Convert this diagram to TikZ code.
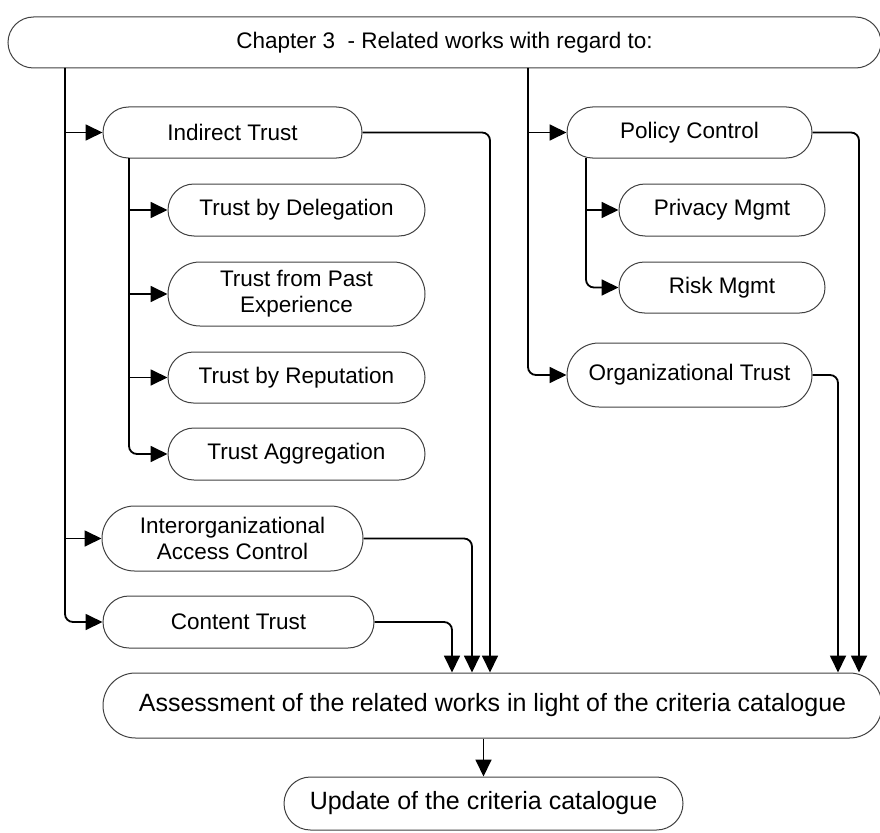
\documentclass[tikz,border=0pt]{standalone}
\usepackage{fontspec}
\setmainfont{Liberation Sans}
\usetikzlibrary{arrows.meta}
\begin{document}
\begin{tikzpicture}[x=1pt,y=-1pt,
  box/.style={draw=black!75, line width=1pt, rectangle, inner sep=0pt, align=center,
    font=\fontsize{22.5}{26}\selectfont},
  big/.style={font=\fontsize{25}{30}\selectfont},
  sz/.style 2 args={minimum width=#1pt, minimum height=#2pt, rounded corners=0.5*#2pt},
  conn/.style={draw=black, line width=1.8pt, rounded corners=8pt,
    -{Triangle[length=17pt,width=16pt]}},
]
\useasboundingbox (0,0) rectangle (880,832);

% header
\node[box, sz={873}{51}] (top) at (444.5,42.5) {Chapter 3~ - Related works with regard to:};

% left branch: indirect trust and its kinds
\node[box, sz={259}{51}] (ind)   at (232.5,132.5) {Indirect Trust};
\node[box, sz={257}{52}] (del)   at (296.5,210)   {Trust by Delegation};
\node[box, sz={257}{64}] (past)  at (296.5,294)   {Trust from Past\\Experience};
\node[box, sz={257}{51}] (rep)   at (296.5,377.5) {Trust by Reputation};
\node[box, sz={257}{52}] (agg)   at (296.5,454)   {Trust Aggregation};
\node[box, sz={261}{65}] (inter) at (232.5,538.5) {Interorganizational\\Access Control};
\node[box, sz={271}{52}] (cont)  at (238.5,622)   {Content Trust};

% right branch: policy control and organizational trust
\node[box, sz={245}{51}] (pol)  at (689.5,132.5) {Policy Control};
\node[box, sz={206}{52}] (priv) at (722,210)     {Privacy Mgmt};
\node[box, sz={206}{51}] (risk) at (722,287.5)   {Risk Mgmt};
\node[box, sz={245}{64}] (org)  at (689.5,375)   {Organizational Trust};

% assessment and update
\node[box, big, sz={779}{65}] (assess) at (492.5,705.5) {Assessment of the related works in light of the criteria catalogue};
\node[box, big, sz={399}{53}] (upd)    at (483.5,803.5) {Update of the criteria catalogue};

% trunk lines
\coordinate (tl) at (65,68);
\coordinate (il) at (129,158);
\coordinate (tr) at (528,68);
\coordinate (pr) at (586,158);

\draw[conn] (tl) |- (cont.west);
\draw[conn] (ind.west -| tl) -- (ind.west);
\draw[conn] (inter.west -| tl) -- (inter.west);

\draw[conn] (il) |- (agg.west);
\draw[conn] (del.west -| il) -- (del.west);
\draw[conn] (past.west -| il) -- (past.west);
\draw[conn] (rep.west -| il) -- (rep.west);

\draw[conn] (tr) |- (org.west);
\draw[conn] (pol.west -| tr) -- (pol.west);

\draw[conn] (pr) |- (risk.west);
\draw[conn] (priv.west -| pr) -- (priv.west);

% feeds into the assessment
\coordinate (c1) at (452,0);
\coordinate (c2) at (472,0);
\coordinate (c3) at (490,0);
\coordinate (c4) at (838,0);
\coordinate (c5) at (859,0);

\draw[conn] (cont.east)  -| (assess.north -| c1);
\draw[conn] (inter.east) -| (assess.north -| c2);
\draw[conn] (ind.east)   -| (assess.north -| c3);
\draw[conn] (org.east)   -| (assess.north -| c4);
\draw[conn] (pol.east)   -| (assess.north -| c5);

\draw[conn] (assess.south -| upd.north) -- (upd.north);
\end{tikzpicture}
\end{document}
